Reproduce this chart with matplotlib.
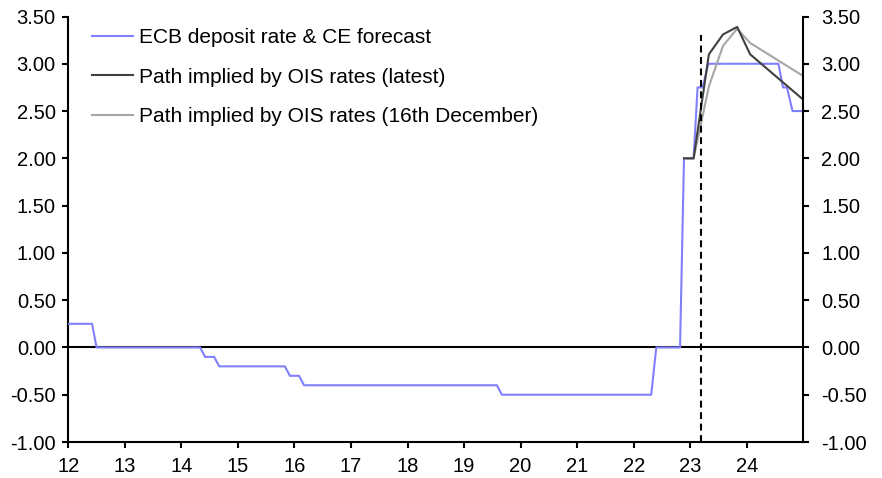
import matplotlib
matplotlib.use("Agg")
import matplotlib.pyplot as plt

plt.rcParams['font.family'] = ['Liberation Sans', 'DejaVu Sans']

# ECB deposit rate & CE forecast (decimal years, % )
ecb_x = [12.0, 12.42, 12.5, 14.33, 14.42, 14.58, 14.67, 15.83, 15.92, 16.08, 16.17,
         19.58, 19.67, 22.31, 22.40, 22.82, 22.89, 23.06, 23.13, 23.22, 23.32,
         24.56, 24.64, 24.71, 24.81, 25.0]
ecb_y = [0.25, 0.25, 0.0, 0.0, -0.10, -0.10, -0.20, -0.20, -0.30, -0.30, -0.40,
         -0.40, -0.50, -0.50, 0.0, 0.0, 2.00, 2.00, 2.75, 2.75, 3.00,
         3.00, 2.75, 2.75, 2.50, 2.50]

# Path implied by OIS rates (latest)
ois_latest_x = [22.89, 23.06, 23.33, 23.58, 23.83, 24.06, 25.0]
ois_latest_y = [2.00, 2.00, 3.10, 3.31, 3.39, 3.10, 2.62]

# Path implied by OIS rates (16th December)
ois_dec_x = [22.89, 23.06, 23.33, 23.58, 23.83, 24.06, 25.0]
ois_dec_y = [2.00, 2.00, 2.76, 3.19, 3.37, 3.22, 2.87]

latest_date = 23.19
latest_line_top = 3.30

x_ticks = list(range(12, 25))
x_tick_labels = [str(v) for v in x_ticks]
y_ticks = [-1.0, -0.5, 0.0, 0.5, 1.0, 1.5, 2.0, 2.5, 3.0, 3.5]

labels = ["ECB deposit rate & CE forecast",
          "Path implied by OIS rates (latest)",
          "Path implied by OIS rates (16th December)"]

FS = 14.5
fig = plt.figure(figsize=(8.82, 4.78), dpi=100)
ax = fig.add_axes([68.3 / 882, 36 / 478, (803.3 - 68.3) / 882, (442 - 16.5) / 478])

ax.axhline(0, color='black', lw=1.5, zorder=1)
l1, = ax.plot(ecb_x, ecb_y, color='#8080ff', lw=1.5, label=labels[0], zorder=3)
l3, = ax.plot(ois_dec_x, ois_dec_y, color='#a6a6a6', lw=1.5, label=labels[2], zorder=4)
l2, = ax.plot(ois_latest_x, ois_latest_y, color='#404040', lw=1.5, label=labels[1], zorder=5)
ax.plot([latest_date, latest_date], [-1.0, latest_line_top], color='black', lw=1.5,
        linestyle=(0, (3.3, 2.2)), zorder=6)

ax.set_xlim(12, 25)
ax.set_ylim(-1, 3.5)
ax.set_xticks(x_ticks)
ax.set_xticklabels(x_tick_labels)
ax.set_yticks(y_ticks)
ax.set_yticklabels([f"{v:.2f}" for v in y_ticks])

ax2 = ax.twinx()
ax2.set_ylim(-1, 3.5)
ax2.set_yticks(y_ticks)
ax2.set_yticklabels([f"{v:.2f}" for v in y_ticks])

for a in (ax, ax2):
    a.spines['top'].set_visible(False)
    for s in ('left', 'right', 'bottom'):
        a.spines[s].set_linewidth(1.5)
ax.spines['right'].set_visible(False)
ax2.spines['left'].set_visible(False)
ax2.spines['bottom'].set_visible(False)

ax.tick_params(axis='x', direction='out', length=4, width=1.5, labelsize=FS, pad=7)
ax.tick_params(axis='y', direction='out', length=4, width=1.5, labelsize=FS, pad=5)
ax2.tick_params(axis='y', direction='out', length=4, width=1.5, labelsize=FS, pad=9)

leg = ax.legend(handles=[l1, l2, l3], loc='upper left', bbox_to_anchor=(0.0327, 0.973),
                frameon=False, fontsize=FS + 0.5, handlelength=1.95, handletextpad=0.27,
                labelspacing=0.99, borderpad=0, borderaxespad=0)

fig.savefig("out.png", dpi=100)
